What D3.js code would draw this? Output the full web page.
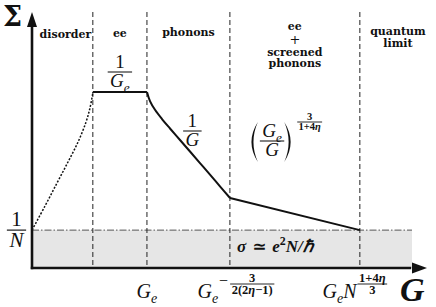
<!DOCTYPE html>
<html lang="en">
<head>
<meta charset="UTF-8" />
<title>Conductance regimes</title>
<script src="https://cdn.jsdelivr.net/npm/d3@7"></script>
<style>
  body { margin: 0; background: #fff; }
  svg text { fill: #111; }
  .lbl { font-family: "DejaVu Serif", serif; font-weight: bold; font-size: 11px; }
</style>
</head>
<body>
<script>
// --- data, in arbitrary G / Sigma units ---
var regionNames = [["disorder"], ["ee"], ["phonons"], ["ee", "+", "screened", "phonons"], ["quantum", "limit"]];
var bounds = [15.4, 29.1, 50.1, 83.0];      // region borders along G
var plateau = 68.75;                         // 1/Ge level
var floorN = 14.8;                           // 1/N level
var quantumEnd = 96.2;

var disorderG = [0, 3.29, 6.33, 9.11, 11.65, 13.67, 14.68, 15.44];
var disorderS = [14.8, 24.2, 33.2, 41.4, 49.2, 57.0, 62.5, 68.75];

var phononG = [29.11, 29.87, 31.14, 32.91, 34.94, 37.47, 40.0, 42.53, 45.06, 47.59, 50.13];
var phononS = [68.75, 65.2, 61.8, 58.2, 54.5, 50.0, 45.5, 41.0, 36.5, 31.9, 27.34];

var screenedG = [50.13, 83.0];
var screenedS = [27.34, 14.8];

var MATH = '"Liberation Serif", "Times New Roman", serif';

var width = 436, height = 307;
var x = d3.scaleLinear().domain([0, 100]).range([32, 427]);
var y = d3.scaleLinear().domain([0, 100]).range([268, 12]);

var svg = d3.select("body").append("svg")
    .attr("width", width)
    .attr("height", height);

// gray quantum band
svg.append("rect")
   .attr("x", x(0)).attr("y", y(floorN))
   .attr("width", x(quantumEnd) - x(0))
   .attr("height", y(0) - y(floorN))
   .style("fill", "#e6e6e6");

svg.append("line")
   .attr("x1", x(0)).attr("x2", x(quantumEnd))
   .attr("y1", y(floorN)).attr("y2", y(floorN))
   .style("stroke", "#555").style("stroke-width", 1)
   .style("stroke-dasharray", "7,2,1.5,2");

// region borders
svg.selectAll(".border")
   .data(bounds)
   .enter()
   .append("line")
   .attr("class", "border")
   .attr("x1", function(d) { return x(d); })
   .attr("x2", function(d) { return x(d); })
   .attr("y1", y(100)).attr("y2", y(0))
   .style("stroke", "#222").style("stroke-width", 1)
   .style("stroke-dasharray", "5,3");

// curves
function curveOf(gs) {
  return d3.line()
    .x(function(d, i) { return x(gs[i]); })
    .y(function(d) { return y(d); })
    .curve(d3.curveCatmullRom.alpha(0.5));
}

svg.append("path")
   .attr("d", curveOf(disorderG)(disorderS))
   .style("fill", "none").style("stroke", "#111")
   .style("stroke-width", 1.5).style("stroke-dasharray", "2,1.6");

svg.append("path")
   .attr("d", d3.line()([[x(bounds[0]), y(plateau)], [x(bounds[1]), y(plateau)]]))
   .style("fill", "none").style("stroke", "#111").style("stroke-width", 2);
svg.append("path")
   .attr("d", curveOf(phononG)(phononS))
   .style("fill", "none").style("stroke", "#111").style("stroke-width", 2);
svg.append("path")
   .attr("d", curveOf(screenedG)(screenedS))
   .style("fill", "none").style("stroke", "#111").style("stroke-width", 2);

// axes with arrows
svg.append("line")
   .attr("x1", x(0)).attr("x2", x(0)).attr("y1", y(0) + 1.2).attr("y2", y(95))
   .style("stroke", "#111").style("stroke-width", 2.6);
svg.append("line")
   .attr("x1", x(0) - 1.2).attr("x2", x(96)).attr("y1", y(0)).attr("y2", y(0))
   .style("stroke", "#111").style("stroke-width", 2.6);
svg.append("path")
   .attr("d", "M" + x(0) + "," + y(100) + "L" + (x(0) - 5) + "," + (y(100) + 15) +
              "L" + (x(0) + 5) + "," + (y(100) + 15) + "Z")
   .style("fill", "#111");
svg.append("path")
   .attr("d", "M" + x(100) + "," + y(0) + "L" + (x(100) - 15) + "," + (y(0) - 5.5) +
              "L" + (x(100) - 15) + "," + (y(0) + 5.5) + "Z")
   .style("fill", "#111");

// region labels
var edges = [x(0)].concat(bounds.map(x)).concat([width]);
var labelBase = [[38], [37], [36], [30, 44, 56, 67], [35, 47]];
regionNames.forEach(function(lines, i) {
  var cx = (edges[i] + edges[i + 1]) / 2;
  if (i == 0) cx += 3;
  lines.forEach(function(s, j) {
    svg.append("text")
       .attr("class", "lbl")
       .attr("x", cx)
       .attr("y", labelBase[i][j])
       .attr("text-anchor", "middle")
       .style("font-size", s == "+" ? "13px" : null)
       .style("font-weight", s == "+" ? "normal" : null)
       .text(s);
  });
});

// --- math typesetting helpers ---
function runText(g, segs, size, bold) {
  var t = g.append("text")
     .attr("x", 0).attr("y", 0)
     .style("font-family", MATH)
     .style("font-size", size + "px")
     .style("font-weight", bold ? "bold" : "normal");
  var shift = 0;
  segs.forEach(function(s) {
    var target = s.sub ? size * 0.25 : s.sup ? -size * 0.4 : 0;
    t.append("tspan")
     .attr("dy", target - shift)
     .style("font-family", s.font || MATH)
     .style("font-size", (s.sub || s.sup ? size * 0.7 : size) + "px")
     .style("font-style", s.it ? "italic" : "normal")
     .text(s.t);
    shift = target;
  });
  return t;
}

function fracBox(g, num, den, size, bar, bold) {
  var n = runText(g, num, size, bold);
  var d = runText(g, den, size, bold);
  var wn = n.node().getComputedTextLength();
  var wd = d.node().getComputedTextLength();
  var w = Math.max(wn, wd) + size * 0.25;
  n.attr("x", (w - wn) / 2).attr("y", bar - size * 0.2);
  d.attr("x", (w - wd) / 2).attr("y", bar + size * 0.8);
  g.append("line").attr("x1", 0).attr("x2", w)
   .attr("y1", bar).attr("y2", bar)
   .style("stroke", "#111").style("stroke-width", Math.max(0.9, size * 0.055));
  return w;
}

function paren(g, left, h, mid) {
  var w = h * 0.2, t = h * 0.05;
  var p = d3.path();
  if (left) {
    p.moveTo(w, mid - h / 2);
    p.quadraticCurveTo(-w * 0.6, mid, w, mid + h / 2);
    p.quadraticCurveTo(-w * 0.6 + 2 * t, mid, w, mid - h / 2);
  } else {
    p.moveTo(0, mid - h / 2);
    p.quadraticCurveTo(w * 1.6, mid, 0, mid + h / 2);
    p.quadraticCurveTo(w * 1.6 - 2 * t, mid, 0, mid - h / 2);
  }
  g.append("path").attr("d", p.toString()).style("fill", "#111");
  return w + 1;
}

// items: {run, size} | {frac:[num,den], size, bar} | {paren:"(", h, mid}; all relative to base
function formula(cx, base, items) {
  var g = svg.append("g");
  var cursor = 0;
  items.forEach(function(it) {
    var sub = g.append("g").attr("transform", "translate(" + cursor + "," + (-(it.rise || 0)) + ")");
    var w;
    if (it.run) {
      w = runText(sub, it.run, it.size, it.bold).node().getComputedTextLength();
    } else if (it.frac) {
      w = fracBox(sub, it.frac[0], it.frac[1], it.size, it.bar, it.bold);
    } else {
      w = paren(sub, it.paren == "(", it.h, it.mid);
    }
    cursor += w + (it.pad || 0);
  });
  g.attr("transform", "translate(" + (cx - cursor / 2) + "," + base + ")");
  return g;
}

var G = { t: "G", it: true }, e = { t: "e", it: true, sub: true };
var one = { t: "1" };

// 1/Ge plateau label
formula((x(bounds[0]) + x(bounds[1])) / 2, 0, [
  { frac: [[one], [G, e]], size: 19, bar: 72 }
]);
// 1/G
formula(x(40.6), 0, [
  { frac: [[one], [G]], size: 19, bar: 131 }
]);
// (Ge/G)^(3/(1+4eta))
formula(x(64.3), 0, [
  { paren: "(", h: 40, mid: 142, pad: 1 },
  { frac: [[G, e], [G]], size: 19, bar: 141 },
  { paren: ")", h: 40, mid: 142, pad: 4 },
  { frac: [[{ t: "3" }], [{ t: "1+4" }, { t: "η", it: true }]], size: 10.5, bar: 122, bold: true }
]);
// sigma ~ e^2 N / hbar
formula(x(61.5), 252, [
  { run: [{ t: "σ", it: true }, { t: " ≃ ", font: "DejaVu Serif" }, { t: "e", it: true }, { t: "2", sup: true },
          { t: "N/ℏ", it: true }], size: 17, bold: true }
]);
// 1/N
formula(16.5, 0, [
  { frac: [[one], [{ t: "N", it: true }]], size: 21, bar: y(floorN) }
]);

// tick labels
var tickBase = 298;
formula(x(bounds[1]), tickBase, [
  { run: [G, e], size: 20 }
]);
formula(x(bounds[2]) + 6, tickBase, [
  { run: [G, e], size: 20, pad: 1 },
  { run: [{ t: "−" }], size: 16, pad: 2, rise: 12 },
  { frac: [[{ t: "3" }], [{ t: "2(2" }, { t: "η", it: true }, { t: "−1)" }]], size: 12.5, bar: -14, bold: true }
]);
formula(x(bounds[3]) - 5, tickBase, [
  { run: [G, e, { t: "N", it: true }], size: 20, pad: 1 },
  { frac: [[{ t: "1+4" }, { t: "η", it: true }], [{ t: "3" }]], size: 12.5, bar: -14, bold: true }
]);

// axis names
svg.append("text").attr("x", 3).attr("y", 26)
   .style("font-family", "DejaVu Serif").style("font-size", "27px").style("font-weight", "bold").text("Σ");
svg.append("text").attr("x", 400).attr("y", 301)
   .style("font-family", MATH)
   .style("font-size", "34px").style("font-weight", "bold").style("font-style", "italic").text("G");
</script>
</body>
</html>
